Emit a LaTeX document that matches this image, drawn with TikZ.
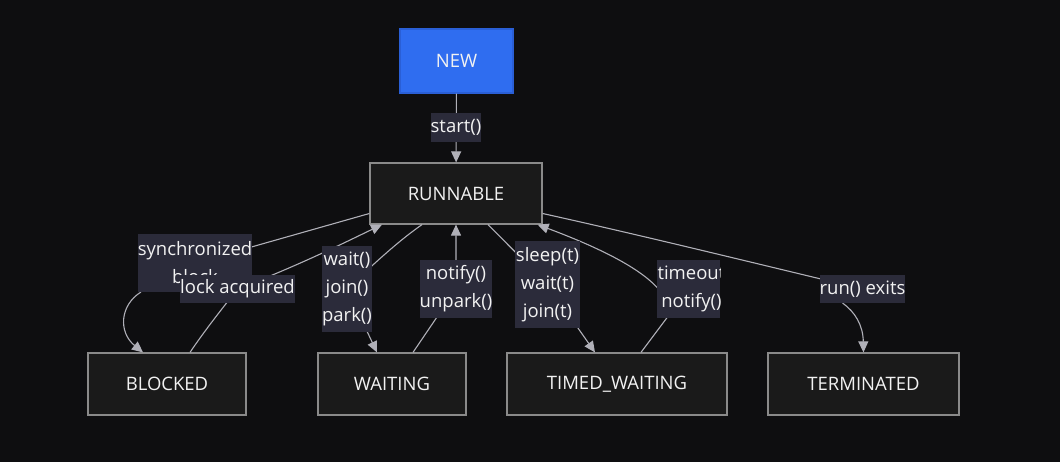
\documentclass[tikz,border=0pt]{standalone}
\usepackage{fontspec}
\setmainfont{Open Sans}
\usetikzlibrary{arrows.meta}
\definecolor{bgc}{HTML}{0E0E10}
\definecolor{boxfill}{HTML}{1A1A1A}
\definecolor{boxline}{HTML}{8A8A8A}
\definecolor{newfill}{HTML}{2F6DF0}
\definecolor{newline}{HTML}{2A5FD6}
\definecolor{lblbg}{HTML}{2B2B3A}
\definecolor{edgec}{HTML}{B0B0B8}
\definecolor{txt}{HTML}{F2F2F2}
\tikzset{
  state/.style={draw=boxline, fill=boxfill, line width=1.2pt, minimum height=62pt, inner sep=0pt,
    text=txt, font=\fontsize{18.5}{22}\selectfont},
  lbl/.style={fill=lblbg, inner sep=0pt, text=txt, align=center, font=\fontsize{18.5}{28}\selectfont},
  edge/.style={draw=edgec, line width=1.1pt},
  arr/.style={edge, -{Triangle[length=11pt,width=10pt]}}
}
\begin{document}
\begin{tikzpicture}[x=1pt,y=-1pt]
\fill[bgc] (0,0) rectangle (1060,462);
\useasboundingbox (0,0) rectangle (1060,462);
% states
\node[state, fill=newfill, draw=newline, minimum width=113pt, minimum height=64pt] (new) at (456.5,61) {NEW};
\node[state, minimum width=172pt, minimum height=61pt] (run) at (456,193.5) {RUNNABLE};
\node[state, minimum width=158pt] (blk) at (167,384) {BLOCKED};
\node[state, minimum width=148pt] (wai) at (392,384) {WAITING};
\node[state, minimum width=220pt] (tw) at (617,384) {TIMED\_WAITING};
\node[state, minimum width=191pt] (term) at (863.5,384) {TERMINATED};
% label centres
\path (456,127.5) coordinate (cstart);
\path (195,263) coordinate (csync);
\path (237.5,289) coordinate (clock);
\path (347,289) coordinate (cwait);
\path (456,289) coordinate (cnot);
\path (547.5,284.5) coordinate (csleep);
\path (688.5,289) coordinate (ctmo);
\path (862.5,289) coordinate (cexit);
% edges
\draw[arr] (new) -- (run);
% RUNNABLE -> BLOCKED
\draw[edge] ([yshift=-20pt]run.west) -- (csync);
\draw[arr] ([xshift=-54pt,yshift=-29pt]csync) .. controls (120,305) and (118,332) .. ([xshift=-24pt]blk.north);
% BLOCKED -> RUNNABLE
\draw[arr] ([xshift=23pt]blk.north) .. controls (205,330) and (225,305) .. (clock)
  .. controls (300,265) and (350,240) .. ([xshift=-74pt]run.south);
% RUNNABLE -> WAITING
\draw[arr] ([xshift=-34pt]run.south) .. controls (400,240) and (380,258) .. (cwait) -- ([xshift=-15pt]wai.north);
% WAITING -> RUNNABLE
\draw[arr] ([xshift=21pt]wai.north) -- (cnot) -- (run.south);
% RUNNABLE -> TIMED_WAITING
\draw[arr] ([xshift=32pt]run.south) -- (csleep) -- ([xshift=-22pt]tw.north);
% TIMED_WAITING -> RUNNABLE
\draw[edge] ([xshift=24pt]tw.north) -- (ctmo);
\draw[arr] ([xshift=-30pt]ctmo) .. controls (640,268) and (600,248) .. ([xshift=-5pt]run.south east);
% RUNNABLE -> TERMINATED
\draw[edge] ([yshift=-20pt]run.east) .. controls (640,235) and (750,262) .. (cexit);
\draw[arr] ([xshift=-20pt,yshift=-14pt]cexit) .. controls (855,312) and (863,325) .. (term.north);
% labels
\node[lbl, minimum width=50pt, minimum height=29pt] (lstart) at (cstart) {start()};
\node[lbl, minimum width=114pt, minimum height=58pt] (lsync) at (csync) {synchronized\\block};
\node[lbl, minimum width=115pt, minimum height=28pt] (llock) at (clock) {lock acquired};
\node[lbl, minimum width=50pt, minimum height=86pt] (lwait) at (cwait) {wait()\\join()\\park()};
\node[lbl, minimum width=72pt, minimum height=58pt] (lnot) at (cnot) {notify()\\unpark()};
\node[lbl, minimum width=65pt, minimum height=87pt] (lsleep) at (csleep) {sleep(t)\\wait(t)\\join(t)};
\node[lbl, minimum width=63pt, minimum height=58pt] (ltmo) at (ctmo) {};
\begin{scope}
\clip (ltmo.south west) rectangle (ltmo.north east);
\node[lbl, fill=none, anchor=west] at ([xshift=0.5pt]ltmo.west) {timeout\\notify()};
\end{scope}
\node[lbl, minimum width=85pt, minimum height=28pt] (lexit) at (cexit) {run() exits};
\end{tikzpicture}
\end{document}
